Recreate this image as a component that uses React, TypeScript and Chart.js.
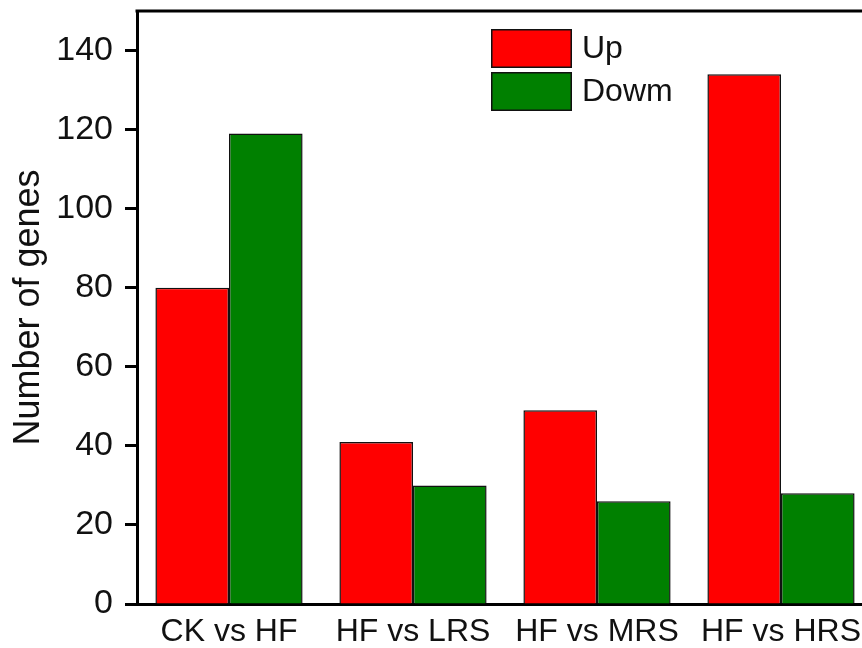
import React, { useEffect, useRef } from "react";
import { Chart, registerables } from "chart.js";

Chart.register(...registerables);

const categories = ["CK vs HF", "HF vs LRS", "HF vs MRS", "HF vs HRS"];
const upValues = [80, 41, 49, 134];
const downValues = [119, 30, 26, 28];
const seriesNames = ["Up", "Dowm"];
const seriesColors = ["#FF0000", "#008000"];
const yTickValues = [0, 20, 40, 60, 80, 100, 120, 140];

const FONT = "'Liberation Sans', Arial, sans-serif";

const framePlugin = {
  id: "frame",
  afterDatasetsDraw(chart: any) {
    const { ctx, chartArea } = chart;
    ctx.save();
    ctx.strokeStyle = "#000";
    ctx.lineWidth = 3;
    ctx.beginPath();
    ctx.moveTo(chartArea.left - 1.5, chartArea.top);
    ctx.lineTo(chartArea.right, chartArea.top);
    ctx.lineTo(chartArea.right, chartArea.bottom);
    ctx.stroke();
    ctx.restore();
  },
};

const legendPlugin = {
  id: "customLegend",
  afterDraw(chart: any) {
    const { ctx } = chart;
    ctx.save();
    const x = 491;
    const w = 81;
    const h = 39;
    const ys = [29, 72];
    chart.data.datasets.forEach((ds: any, i: number) => {
      const y = ys[i];
      ctx.fillStyle = ds.backgroundColor;
      ctx.fillRect(x, y, w, h);
      ctx.strokeStyle = "#111";
      ctx.lineWidth = 1.5;
      ctx.strokeRect(x + 0.75, y + 0.75, w - 1.5, h - 1.5);
      ctx.fillStyle = "#111";
      ctx.font = `32px ${FONT}`;
      ctx.textBaseline = "middle";
      ctx.textAlign = "left";
      ctx.fillText(ds.label, x + w + 10, y + h / 2 + 1);
    });
    ctx.restore();
  },
};

export default function App() {
  const ref = useRef<HTMLCanvasElement>(null);

  useEffect(() => {
    if (!ref.current) return;
    const chart = new Chart(ref.current, {
      type: "bar",
      data: {
        labels: categories,
        datasets: [
          {
            label: seriesNames[0],
            data: upValues,
            backgroundColor: seriesColors[0],
            borderColor: "#111",
            borderWidth: 1.5,
            categoryPercentage: 0.8,
            barPercentage: 1.0,
          },
          {
            label: seriesNames[1],
            data: downValues,
            backgroundColor: seriesColors[1],
            borderColor: "#111",
            borderWidth: 1.5,
            categoryPercentage: 0.8,
            barPercentage: 1.0,
          },
        ],
      },
      options: {
        responsive: false,
        animation: false,
        layout: { padding: { top: 11, right: 7, bottom: 0, left: 0 } },
        plugins: {
          legend: { display: false },
          tooltip: { enabled: false },
        },
        scales: {
          x: {
            grid: { display: false, drawTicks: false },
            border: { display: true, color: "#000", width: 3 },
            ticks: {
              color: "#111",
              font: { family: FONT, size: 32 },
              padding: 9,
              maxRotation: 0,
              autoSkip: false,
            },
            afterFit: (scale: any) => {
              scale.height = 44;
              scale.paddingLeft = 0;
              scale.paddingRight = 0;
            },
          },
          y: {
            min: 0,
            max: 150,
            ticks: {
              stepSize: 20,
              color: "#111",
              font: { family: FONT, size: 34 },
              padding: 12,
            },
            afterBuildTicks: (scale: any) => {
              scale.ticks = yTickValues.map((v) => ({ value: v }));
            },
            grid: {
              drawOnChartArea: false,
              drawTicks: true,
              tickLength: 12,
              tickWidth: 3,
              tickColor: "#000",
            },
            border: { display: true, color: "#000", width: 3 },
            title: {
              display: true,
              text: "Number of genes",
              color: "#111",
              font: { family: FONT, size: 36 },
              padding: { top: 7, bottom: 0 },
            },
            afterFit: (scale: any) => {
              scale.width = 137;
              scale.paddingTop = 0;
              scale.paddingBottom = 0;
            },
          },
        },
      },
      plugins: [framePlugin, legendPlugin],
    });
    return () => chart.destroy();
  }, []);

  return (
    <div
      style={{
        position: "fixed",
        left: 0,
        top: 0,
        width: 862,
        height: 648,
        overflow: "hidden",
        background: "#fff",
      }}
    >
      <canvas ref={ref} width={880} height={648} style={{ width: 880, height: 648, display: "block" }} />
    </div>
  );
}
